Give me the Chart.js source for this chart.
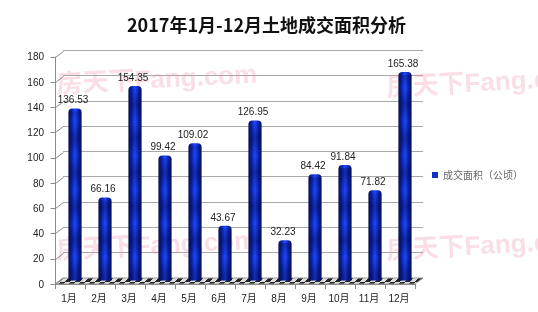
<!DOCTYPE html>
<html>
<head>
<meta charset="utf-8">
<script src="https://cdn.jsdelivr.net/npm/chart.js@4.4.1/dist/chart.umd.min.js"></script>
<style>
  html, body { margin: 0; padding: 0; background: #fff; }
  #wrap { width: 538px; height: 312px; }
</style>
</head>
<body>
<div id="wrap"><canvas id="chart"></canvas></div>
<script>
// chart data
var titleText = '2017年1月-12月土地成交面积分析';
var seriesName = '成交面积（公顷）';
var months = ['1月', '2月', '3月', '4月', '5月', '6月', '7月', '8月', '9月', '10月', '11月', '12月'];
var areaValues = [136.53, 66.16, 154.35, 99.42, 109.02, 43.67, 126.95, 32.23, 84.42, 91.84, 71.82, 165.38];
var yTicks = [0, 20, 40, 60, 80, 100, 120, 140, 160, 180];
var watermarkText = '房天下Fang.com';

var BAR_PCT = 0.44;
var BAR_DX = -3, BAR_DY = 3;     // bars sit half way between back wall and front
var FRONT_DX = -8, FRONT_DY = 6; // front edge of the 3d box

function barFill(ctx) {
  var chart = ctx.chart;
  var xs = chart.scales && chart.scales.x;
  if (ctx.dataIndex === undefined || !xs || !chart.chartArea) return '#1234d0';
  var cx = xs.getPixelForValue(ctx.dataIndex);
  var w = xs.width / months.length * BAR_PCT;
  var g = chart.ctx.createLinearGradient(cx - w / 2, 0, cx + w / 2, 0);
  g.addColorStop(0, '#07104a');
  g.addColorStop(0.22, '#0a22a8');
  g.addColorStop(0.5, '#1e48ff');
  g.addColorStop(0.78, '#0a22a8');
  g.addColorStop(1, '#07104a');
  return g;
}

function floorPattern(ctx) {
  var c = document.createElement('canvas');
  c.width = 10; c.height = 6;
  var p = c.getContext('2d');
  p.fillStyle = '#dcdcdc';
  p.fillRect(0, 0, 10, 6);
  p.fillStyle = '#262626';
  for (var y = 0; y < 6; y++) {
    for (var x = 0; x < 10; x++) {
      var k = ((x + y) % 10 + 10) % 10;
      if (k < 5) p.fillRect(x, y, 1, 1);
    }
  }
  return ctx.createPattern(c, 'repeat');
}

var box3d = {
  id: 'box3d',
  beforeDatasetsDraw: function (chart) {
    var ctx = chart.ctx, a = chart.chartArea;
    // floor
    ctx.save();
    ctx.beginPath();
    ctx.moveTo(a.left, a.bottom);
    ctx.lineTo(a.right, a.bottom);
    ctx.lineTo(a.right + FRONT_DX, a.bottom + FRONT_DY);
    ctx.lineTo(a.left + FRONT_DX, a.bottom + FRONT_DY);
    ctx.closePath();
    ctx.fillStyle = floorPattern(ctx);
    ctx.fill();
    ctx.strokeStyle = '#9a9a9a';
    ctx.lineWidth = 1;
    ctx.stroke();
    ctx.restore();

    // watermarks
    ctx.save();
    ctx.fillStyle = 'rgba(232, 140, 160, 0.28)';
    ctx.font = 'bold 26px "Liberation Sans", "Noto Sans CJK SC", sans-serif';
    ctx.textBaseline = 'alphabetic';
    [[57, 93], [387, 96], [57, 259], [387, 259]].forEach(function (p) {
      ctx.save();
      ctx.translate(p[0], p[1]);
      ctx.rotate(-3 * Math.PI / 180);
      ctx.fillText(watermarkText, 0, 0);
      ctx.restore();
    });
    ctx.restore();

    ctx.save();
    ctx.translate(BAR_DX, BAR_DY);
  },
  afterDatasetsDraw: function (chart) {
    var ctx = chart.ctx, a = chart.chartArea;
    var meta = chart.getDatasetMeta(0);
    // darker horizontal bands on the cylinders
    var g = ctx.createLinearGradient(0, a.top, 0, a.bottom);
    var period = 34, h = a.bottom - a.top;
    for (var y = 0; y <= h; y += period) {
      g.addColorStop(Math.min(1, y / h), 'rgba(0,0,40,0)');
      if (y + period / 2 <= h) g.addColorStop((y + period / 2) / h, 'rgba(0,0,50,0.38)');
    }
    ctx.fillStyle = g;
    meta.data.forEach(function (el) {
      var w = el.width;
      ctx.fillRect(el.x - w / 2 + 1, el.y + 3, w - 2, el.base - el.y - 3);
    });
    ctx.restore();

    // value labels
    ctx.save();
    ctx.fillStyle = '#222';
    ctx.font = '10px "Liberation Sans", sans-serif';
    ctx.textAlign = 'center';
    ctx.textBaseline = 'bottom';
    meta.data.forEach(function (el, i) {
      ctx.fillText(areaValues[i].toFixed(2), el.x + BAR_DX - 2, el.y + BAR_DY - 3);
    });
    ctx.restore();

    // front edges of the box
    var ys = chart.scales.y;
    ctx.save();
    ctx.strokeStyle = '#8c8c8c';
    ctx.lineWidth = 1;
    ctx.beginPath();
    var fl = a.left + FRONT_DX + 0.5;
    ctx.moveTo(fl, ys.getPixelForValue(180) + FRONT_DY);
    ctx.lineTo(fl, a.bottom + FRONT_DY + 0.5);
    ctx.lineTo(a.right + FRONT_DX, a.bottom + FRONT_DY + 0.5);
    yTicks.forEach(function (v) {
      var py = Math.round(ys.getPixelForValue(v)) + 0.5;
      ctx.moveTo(fl - 5, py + FRONT_DY);
      ctx.lineTo(fl, py + FRONT_DY);
      ctx.lineTo(a.left + 0.5, py);
    });
    var step = (a.right - a.left) / months.length;
    for (var i = 0; i <= months.length; i++) {
      var px = Math.round(a.left + FRONT_DX + step * i) + 0.5;
      ctx.moveTo(px, a.bottom + FRONT_DY);
      ctx.lineTo(px, a.bottom + FRONT_DY + 5);
    }
    ctx.stroke();
    ctx.restore();
  }
};

new Chart(document.getElementById('chart'), {
  type: 'bar',
  data: {
    labels: months,
    datasets: [{
      label: seriesName,
      data: areaValues,
      backgroundColor: barFill,
      borderWidth: 0,
      borderRadius: { topLeft: 4, topRight: 4 },
      borderSkipped: 'bottom',
      barPercentage: BAR_PCT,
      categoryPercentage: 1
    }]
  },
  options: {
    responsive: true,
    maintainAspectRatio: false,
    devicePixelRatio: 1,
    animation: false,
    layout: { padding: { left: 0, right: 5, top: 0, bottom: 0 } },
    plugins: {
      title: {
        display: true,
        text: titleText,
        color: '#111',
        font: { family: '"Noto Sans CJK SC", sans-serif', size: 18, weight: 'bold' },
        padding: { top: 14, bottom: 15 }
      },
      legend: {
        position: 'right',
        maxWidth: 115,
        title: { display: true, text: ' ', padding: { top: 26, bottom: 0 }, font: { size: 10 } },
        labels: {
          boxWidth: 6,
          boxHeight: 6,
          padding: 9,
          color: '#222',
          font: { family: '"Noto Sans CJK SC", sans-serif', size: 10 },
          generateLabels: function () {
            return [{ text: seriesName, fillStyle: '#1030c8', strokeStyle: '#1030c8', lineWidth: 0, datasetIndex: 0 }];
          }
        }
      },
      tooltip: { enabled: false }
    },
    scales: {
      x: {
        grid: { display: false },
        border: { display: false },
        ticks: {
          color: '#222',
          font: { family: '"Liberation Sans", "Noto Sans CJK SC", sans-serif', size: 10 },
          padding: 7,
          labelOffset: -9,
          maxRotation: 0
        },
        afterFit: function (s) { s.height = 34; }
      },
      y: {
        min: 0,
        max: 180,
        afterBuildTicks: function (s) { s.ticks = yTicks.map(function (v) { return { value: v }; }); },
        grid: { color: '#a8a8a8', drawTicks: false },
        border: { display: false },
        ticks: {
          color: '#222',
          font: { family: '"Liberation Sans", sans-serif', size: 10 },
          padding: 19,
          labelOffset: 7
        },
        afterFit: function (s) { s.width = 63; }
      }
    }
  },
  plugins: [box3d]
});
</script>
</body>
</html>
